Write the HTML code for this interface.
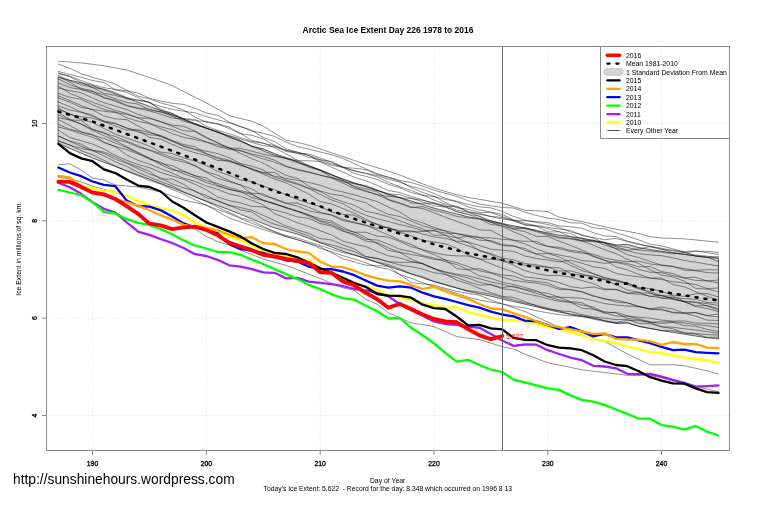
<!DOCTYPE html>
<html><head><meta charset="utf-8"><title>Arctic Sea Ice Extent</title><style>html,body{margin:0;padding:0;background:#fff}</style></head><body>
<svg width="760" height="506" viewBox="0 0 760 506" style="display:block;font-family:'Liberation Sans',sans-serif">
<rect width="760" height="506" fill="#fff"/>
<defs><clipPath id="c"><rect x="46.5" y="46.5" width="683" height="404"/></clipPath></defs>
<g stroke="#d3d3d3" stroke-width="0.75" stroke-dasharray="0.75 1.6">
<line x1="92.5" x2="92.5" y1="46.5" y2="450.5"/>
<line x1="206.4" x2="206.4" y1="46.5" y2="450.5"/>
<line x1="320.2" x2="320.2" y1="46.5" y2="450.5"/>
<line x1="434.0" x2="434.0" y1="46.5" y2="450.5"/>
<line x1="547.8" x2="547.8" y1="46.5" y2="450.5"/>
<line x1="661.5" x2="661.5" y1="46.5" y2="450.5"/>
<line x1="46.5" x2="729.5" y1="415.5" y2="415.5"/>
<line x1="46.5" x2="729.5" y1="318.2" y2="318.2"/>
<line x1="46.5" x2="729.5" y1="220.8" y2="220.8"/>
<line x1="46.5" x2="729.5" y1="123.5" y2="123.5"/>
</g>
<g clip-path="url(#c)" fill="none" stroke-linejoin="round" stroke-linecap="round">
<path d="M58.4 77.5 L69.8 80.2 L81.2 82.8 L92.5 85.5 L103.9 89.7 L115.3 93.8 L126.7 98.0 L138.1 102.2 L149.4 106.4 L160.8 110.6 L172.2 114.9 L183.6 119.1 L195.0 123.6 L206.4 128.0 L217.7 132.3 L229.1 136.7 L240.5 141.3 L251.9 146.0 L263.2 150.7 L274.6 155.3 L286.0 158.4 L297.4 161.5 L308.8 165.9 L320.2 170.3 L331.5 174.7 L342.9 179.1 L354.3 182.8 L365.7 186.6 L377.1 190.4 L388.4 193.9 L399.8 197.5 L411.2 201.0 L422.6 204.5 L434.0 208.1 L445.3 211.0 L456.7 213.9 L468.1 216.8 L479.5 218.9 L490.9 221.0 L502.2 223.5 L513.6 225.8 L525.0 228.0 L536.4 230.4 L547.8 232.9 L559.1 235.1 L570.5 236.7 L581.9 238.2 L593.3 240.4 L604.6 242.4 L616.0 245.0 L627.4 244.3 L638.8 247.6 L650.2 249.5 L661.5 251.3 L672.9 252.8 L684.3 254.4 L695.7 255.9 L707.1 257.4 L718.5 258.4 L718.5 339.0 L707.1 337.8 L695.7 336.0 L684.3 334.2 L672.9 332.4 L661.5 330.6 L650.2 328.5 L638.8 326.5 L627.4 322.9 L616.0 323.3 L604.6 320.6 L593.3 318.4 L581.9 315.9 L570.5 314.1 L559.1 312.1 L547.8 309.6 L536.4 306.9 L525.0 304.1 L513.6 301.6 L502.2 299.0 L490.9 296.2 L479.5 293.8 L468.1 291.4 L456.7 288.1 L445.3 284.9 L434.0 281.7 L422.6 277.8 L411.2 274.0 L399.8 270.1 L388.4 266.3 L377.1 262.4 L365.7 258.7 L354.3 255.0 L342.9 251.3 L331.5 247.0 L320.2 242.7 L308.8 238.4 L297.4 234.1 L286.0 231.0 L274.6 228.0 L263.2 223.5 L251.9 218.9 L240.5 214.3 L229.1 209.7 L217.7 205.5 L206.4 201.2 L195.0 196.7 L183.6 192.2 L172.2 187.9 L160.8 183.6 L149.4 179.2 L138.1 175.0 L126.7 170.7 L115.3 166.5 L103.9 162.2 L92.5 158.0 L81.2 153.2 L69.8 148.3 L58.4 143.5Z" fill="#d3d3d3" stroke="#000" stroke-width="0.75" stroke-opacity="0.8" stroke-linejoin="miter"/>
<g stroke="#000" stroke-width="0.6" stroke-opacity="0.74" stroke-linejoin="miter">
<path d="M58.4 61.3 L69.8 62.0 L81.2 62.9 L92.5 64.3 L103.9 65.8 L115.3 67.9 L126.7 70.0 L138.1 73.7 L149.4 77.4 L160.8 81.4 L172.2 85.6 L183.6 91.5 L195.0 97.3 L206.4 102.9 L217.7 109.1 L229.1 115.4 L240.5 118.5 L251.9 121.2 L263.2 126.1 L274.6 133.2 L286.0 140.2 L297.4 142.4 L308.8 145.2 L320.2 149.0 L331.5 152.8 L342.9 156.6 L354.3 160.5 L365.7 164.2 L377.1 167.7 L388.4 171.2 L399.8 175.1 L411.2 179.4 L422.6 183.8 L434.0 188.0 L445.3 191.4 L456.7 194.7 L468.1 197.4 L479.5 199.3 L490.9 201.3 L502.2 203.2 L513.6 206.7 L525.0 210.2 L536.4 210.8 L547.8 211.5 L559.1 217.2 L570.5 219.5 L581.9 221.5 L593.3 224.2 L604.6 226.9 L616.0 229.1 L627.4 231.3 L638.8 233.5 L650.2 236.7 L661.5 238.0 L672.9 238.4 L684.3 238.9 L695.7 239.9 L707.1 241.1 L718.5 242.2"/>
<path d="M58.4 64.0 L69.8 68.4 L81.2 73.6 L92.5 77.4 L103.9 80.3 L115.3 84.2 L126.7 90.3 L138.1 96.2 L149.4 98.9 L160.8 103.0 L172.2 105.9 L183.6 110.0 L195.0 117.1 L206.4 122.2 L217.7 124.2 L229.1 128.5 L240.5 133.7 L251.9 135.3 L263.2 138.8 L274.6 145.3 L286.0 150.2 L297.4 153.4 L308.8 157.2 L320.2 159.7 L331.5 161.5 L342.9 167.1 L354.3 171.1 L365.7 173.2 L377.1 175.5 L388.4 179.1 L399.8 182.2 L411.2 186.5 L422.6 189.2 L434.0 193.5 L445.3 198.3 L456.7 201.3 L468.1 204.4 L479.5 206.8 L490.9 207.9 L502.2 211.4 L513.6 216.5 L525.0 220.2 L536.4 222.4 L547.8 224.5 L559.1 227.4 L570.5 231.9 L581.9 234.6 L593.3 238.1 L604.6 243.2 L616.0 249.0 L627.4 254.7 L638.8 257.5 L650.2 261.4 L661.5 265.1 L672.9 266.3 L684.3 270.2 L695.7 270.7 L707.1 272.6 L718.5 273.0"/>
<path d="M58.4 71.5 L69.8 74.5 L81.2 77.3 L92.5 80.5 L103.9 82.5 L115.3 89.8 L126.7 92.3 L138.1 97.7 L149.4 103.1 L160.8 106.4 L172.2 109.4 L183.6 111.2 L195.0 112.9 L206.4 116.6 L217.7 119.8 L229.1 122.8 L240.5 126.8 L251.9 131.0 L263.2 133.2 L274.6 136.5 L286.0 142.0 L297.4 146.6 L308.8 149.2 L320.2 152.0 L331.5 154.7 L342.9 158.4 L354.3 163.7 L365.7 168.8 L377.1 173.6 L388.4 177.2 L399.8 180.4 L411.2 182.5 L422.6 186.2 L434.0 190.2 L445.3 193.2 L456.7 196.4 L468.1 200.7 L479.5 204.1 L490.9 205.8 L502.2 207.5 L513.6 208.0 L525.0 212.3 L536.4 215.3 L547.8 218.1 L559.1 219.5 L570.5 222.8 L581.9 223.1 L593.3 227.9 L604.6 228.9 L616.0 232.8 L627.4 236.1 L638.8 239.9 L650.2 244.2 L661.5 245.9 L672.9 248.9 L684.3 252.0 L695.7 256.4 L707.1 257.2 L718.5 261.5"/>
<path d="M58.4 72.8 L69.8 76.6 L81.2 82.3 L92.5 87.6 L103.9 89.2 L115.3 92.5 L126.7 97.5 L138.1 100.3 L149.4 102.0 L160.8 109.2 L172.2 113.6 L183.6 118.6 L195.0 119.5 L206.4 126.3 L217.7 130.5 L229.1 133.7 L240.5 137.6 L251.9 141.4 L263.2 143.4 L274.6 145.5 L286.0 151.5 L297.4 153.2 L308.8 153.9 L320.2 158.0 L331.5 162.3 L342.9 167.6 L354.3 173.5 L365.7 176.3 L377.1 179.5 L388.4 184.4 L399.8 187.8 L411.2 192.5 L422.6 195.3 L434.0 196.6 L445.3 199.4 L456.7 201.7 L468.1 207.0 L479.5 209.9 L490.9 212.0 L502.2 214.4 L513.6 219.9 L525.0 223.2 L536.4 225.9 L547.8 228.8 L559.1 231.7 L570.5 233.6 L581.9 239.1 L593.3 241.1 L604.6 242.8 L616.0 245.7 L627.4 247.4 L638.8 250.2 L650.2 250.9 L661.5 252.2 L672.9 253.9 L684.3 252.7 L695.7 255.0 L707.1 256.1 L718.5 258.0"/>
<path d="M58.4 73.8 L69.8 76.2 L81.2 80.5 L92.5 84.5 L103.9 87.7 L115.3 89.5 L126.7 90.8 L138.1 93.0 L149.4 98.3 L160.8 101.1 L172.2 103.3 L183.6 104.4 L195.0 108.3 L206.4 113.1 L217.7 115.2 L229.1 121.9 L240.5 126.3 L251.9 130.3 L263.2 137.5 L274.6 141.5 L286.0 148.7 L297.4 152.1 L308.8 155.6 L320.2 161.6 L331.5 167.2 L342.9 172.0 L354.3 177.3 L365.7 180.7 L377.1 185.3 L388.4 190.6 L399.8 192.5 L411.2 196.4 L422.6 199.9 L434.0 203.8 L445.3 206.7 L456.7 211.7 L468.1 214.3 L479.5 216.2 L490.9 220.7 L502.2 223.7 L513.6 229.0 L525.0 227.7 L536.4 230.8 L547.8 234.1 L559.1 237.1 L570.5 238.6 L581.9 240.6 L593.3 240.1 L604.6 245.1 L616.0 248.4 L627.4 250.8 L638.8 253.5 L650.2 254.9 L661.5 255.7 L672.9 257.8 L684.3 260.5 L695.7 262.1 L707.1 264.2 L718.5 266.0"/>
<path d="M58.4 75.3 L69.8 80.8 L81.2 84.7 L92.5 87.4 L103.9 93.4 L115.3 95.4 L126.7 98.6 L138.1 100.1 L149.4 102.4 L160.8 110.3 L172.2 113.4 L183.6 120.0 L195.0 124.6 L206.4 128.1 L217.7 132.2 L229.1 135.9 L240.5 140.1 L251.9 146.6 L263.2 148.6 L274.6 153.9 L286.0 158.6 L297.4 162.8 L308.8 166.1 L320.2 169.8 L331.5 175.2 L342.9 179.0 L354.3 183.7 L365.7 186.2 L377.1 190.2 L388.4 193.9 L399.8 194.7 L411.2 198.2 L422.6 202.0 L434.0 205.9 L445.3 207.2 L456.7 211.5 L468.1 214.5 L479.5 218.3 L490.9 222.2 L502.2 224.3 L513.6 227.1 L525.0 228.6 L536.4 231.7 L547.8 235.1 L559.1 237.8 L570.5 238.9 L581.9 241.1 L593.3 241.6 L604.6 242.6 L616.0 246.9 L627.4 250.2 L638.8 248.9 L650.2 246.5 L661.5 249.7 L672.9 250.2 L684.3 252.9 L695.7 251.2 L707.1 251.3 L718.5 252.5"/>
<path d="M58.4 76.5 L69.8 82.1 L81.2 89.6 L92.5 91.5 L103.9 94.8 L115.3 98.8 L126.7 102.4 L138.1 104.1 L149.4 110.1 L160.8 111.9 L172.2 116.1 L183.6 121.2 L195.0 123.7 L206.4 127.9 L217.7 132.4 L229.1 135.6 L240.5 138.9 L251.9 142.5 L263.2 145.7 L274.6 146.8 L286.0 150.4 L297.4 152.2 L308.8 155.2 L320.2 159.9 L331.5 163.9 L342.9 167.0 L354.3 170.7 L365.7 173.5 L377.1 176.8 L388.4 182.4 L399.8 186.7 L411.2 190.5 L422.6 194.9 L434.0 200.1 L445.3 204.1 L456.7 207.7 L468.1 209.3 L479.5 212.4 L490.9 212.6 L502.2 216.4 L513.6 220.2 L525.0 224.5 L536.4 226.4 L547.8 231.8 L559.1 231.9 L570.5 236.6 L581.9 240.8 L593.3 245.2 L604.6 249.7 L616.0 253.6 L627.4 259.4 L638.8 263.5 L650.2 269.7 L661.5 275.2 L672.9 276.9 L684.3 281.2 L695.7 288.3 L707.1 289.2 L718.5 291.5"/>
<path d="M58.4 79.0 L69.8 84.9 L81.2 88.2 L92.5 90.9 L103.9 98.0 L115.3 100.0 L126.7 105.3 L138.1 108.0 L149.4 109.1 L160.8 112.1 L172.2 114.6 L183.6 118.9 L195.0 120.7 L206.4 121.5 L217.7 123.7 L229.1 127.0 L240.5 133.5 L251.9 140.6 L263.2 143.0 L274.6 147.6 L286.0 153.9 L297.4 160.1 L308.8 165.3 L320.2 170.0 L331.5 174.2 L342.9 180.6 L354.3 186.8 L365.7 191.4 L377.1 194.7 L388.4 196.5 L399.8 197.4 L411.2 203.0 L422.6 203.4 L434.0 203.1 L445.3 205.4 L456.7 210.1 L468.1 212.3 L479.5 213.3 L490.9 216.8 L502.2 218.8 L513.6 220.6 L525.0 220.7 L536.4 221.6 L547.8 222.7 L559.1 225.9 L570.5 226.8 L581.9 228.3 L593.3 232.7 L604.6 236.0 L616.0 236.5 L627.4 241.2 L638.8 243.8 L650.2 246.5 L661.5 248.1 L672.9 250.9 L684.3 251.5 L695.7 250.9 L707.1 252.7 L718.5 254.5"/>
<path d="M58.4 83.0 L69.8 87.6 L81.2 89.3 L92.5 93.2 L103.9 97.2 L115.3 101.4 L126.7 105.7 L138.1 108.5 L149.4 110.9 L160.8 114.3 L172.2 118.0 L183.6 119.1 L195.0 124.3 L206.4 128.5 L217.7 131.1 L229.1 137.5 L240.5 140.9 L251.9 146.2 L263.2 149.2 L274.6 153.6 L286.0 157.3 L297.4 161.9 L308.8 167.2 L320.2 170.5 L331.5 177.3 L342.9 181.9 L354.3 183.5 L365.7 185.6 L377.1 189.9 L388.4 194.8 L399.8 197.9 L411.2 198.5 L422.6 200.3 L434.0 202.8 L445.3 206.7 L456.7 206.1 L468.1 211.5 L479.5 214.4 L490.9 216.3 L502.2 217.5 L513.6 220.9 L525.0 225.2 L536.4 225.5 L547.8 227.3 L559.1 229.0 L570.5 230.4 L581.9 235.5 L593.3 237.6 L604.6 239.7 L616.0 238.5 L627.4 241.5 L638.8 244.5 L650.2 246.6 L661.5 248.9 L672.9 252.5 L684.3 254.4 L695.7 255.8 L707.1 257.0 L718.5 256.5"/>
<path d="M58.4 86.0 L69.8 93.3 L81.2 97.8 L92.5 102.2 L103.9 106.2 L115.3 110.3 L126.7 113.5 L138.1 117.9 L149.4 123.0 L160.8 128.9 L172.2 133.6 L183.6 137.4 L195.0 139.5 L206.4 142.2 L217.7 144.9 L229.1 148.1 L240.5 148.3 L251.9 151.3 L263.2 154.1 L274.6 156.5 L286.0 158.1 L297.4 160.6 L308.8 160.8 L320.2 161.4 L331.5 165.2 L342.9 167.4 L354.3 168.2 L365.7 169.8 L377.1 174.5 L388.4 177.4 L399.8 181.4 L411.2 187.5 L422.6 192.5 L434.0 196.1 L445.3 202.6 L456.7 207.0 L468.1 212.0 L479.5 216.4 L490.9 222.4 L502.2 226.1 L513.6 231.8 L525.0 236.6 L536.4 243.5 L547.8 246.5 L559.1 248.7 L570.5 251.6 L581.9 253.1 L593.3 254.2 L604.6 258.0 L616.0 260.1 L627.4 261.7 L638.8 261.1 L650.2 264.0 L661.5 265.3 L672.9 266.6 L684.3 268.6 L695.7 270.3 L707.1 269.7 L718.5 270.0"/>
<path d="M58.4 88.0 L69.8 90.7 L81.2 92.7 L92.5 98.0 L103.9 102.7 L115.3 106.1 L126.7 109.5 L138.1 114.4 L149.4 117.8 L160.8 121.7 L172.2 126.3 L183.6 130.7 L195.0 131.5 L206.4 138.2 L217.7 142.9 L229.1 148.0 L240.5 150.9 L251.9 154.0 L263.2 156.4 L274.6 160.2 L286.0 166.0 L297.4 170.2 L308.8 172.5 L320.2 175.0 L331.5 178.1 L342.9 183.1 L354.3 188.5 L365.7 190.8 L377.1 194.6 L388.4 199.9 L399.8 203.6 L411.2 207.7 L422.6 206.5 L434.0 210.4 L445.3 212.8 L456.7 216.4 L468.1 217.9 L479.5 219.0 L490.9 224.5 L502.2 225.9 L513.6 229.2 L525.0 231.7 L536.4 236.4 L547.8 236.5 L559.1 241.1 L570.5 245.4 L581.9 249.9 L593.3 255.7 L604.6 260.1 L616.0 266.8 L627.4 269.9 L638.8 274.4 L650.2 278.1 L661.5 278.0 L672.9 284.5 L684.3 286.8 L695.7 291.7 L707.1 296.3 L718.5 300.0"/>
<path d="M58.4 93.5 L69.8 97.2 L81.2 99.3 L92.5 104.8 L103.9 109.5 L115.3 111.9 L126.7 117.7 L138.1 121.2 L149.4 123.8 L160.8 126.8 L172.2 129.7 L183.6 134.1 L195.0 137.7 L206.4 141.9 L217.7 146.7 L229.1 149.1 L240.5 150.5 L251.9 155.0 L263.2 159.0 L274.6 162.1 L286.0 166.6 L297.4 169.3 L308.8 171.8 L320.2 175.3 L331.5 177.5 L342.9 180.5 L354.3 186.3 L365.7 188.8 L377.1 191.8 L388.4 199.4 L399.8 202.9 L411.2 206.9 L422.6 208.5 L434.0 212.8 L445.3 217.2 L456.7 221.4 L468.1 225.4 L479.5 229.9 L490.9 230.4 L502.2 236.3 L513.6 240.5 L525.0 243.9 L536.4 249.0 L547.8 252.9 L559.1 255.0 L570.5 257.1 L581.9 260.6 L593.3 261.5 L604.6 263.4 L616.0 261.8 L627.4 263.5 L638.8 266.8 L650.2 266.5 L661.5 271.6 L672.9 273.5 L684.3 277.8 L695.7 277.3 L707.1 281.0 L718.5 280.0"/>
<path d="M58.4 96.0 L69.8 100.5 L81.2 105.6 L92.5 109.8 L103.9 116.0 L115.3 118.9 L126.7 119.6 L138.1 126.0 L149.4 131.9 L160.8 136.6 L172.2 141.4 L183.6 146.3 L195.0 149.1 L206.4 151.2 L217.7 153.7 L229.1 157.7 L240.5 163.6 L251.9 166.1 L263.2 169.9 L274.6 177.4 L286.0 180.8 L297.4 184.5 L308.8 188.4 L320.2 194.5 L331.5 200.0 L342.9 203.8 L354.3 210.2 L365.7 215.3 L377.1 218.7 L388.4 221.5 L399.8 224.6 L411.2 227.1 L422.6 230.7 L434.0 230.8 L445.3 233.1 L456.7 233.7 L468.1 235.4 L479.5 237.3 L490.9 241.7 L502.2 245.5 L513.6 246.3 L525.0 248.5 L536.4 254.0 L547.8 253.5 L559.1 256.9 L570.5 262.8 L581.9 268.1 L593.3 273.8 L604.6 277.8 L616.0 279.8 L627.4 283.1 L638.8 288.4 L650.2 292.8 L661.5 298.2 L672.9 299.2 L684.3 301.7 L695.7 306.6 L707.1 308.5 L718.5 311.5"/>
<path d="M58.4 98.0 L69.8 102.2 L81.2 107.5 L92.5 109.4 L103.9 111.3 L115.3 112.5 L126.7 114.4 L138.1 117.9 L149.4 118.3 L160.8 121.8 L172.2 125.2 L183.6 126.3 L195.0 131.0 L206.4 137.2 L217.7 142.9 L229.1 148.0 L240.5 153.4 L251.9 158.6 L263.2 163.1 L274.6 169.5 L286.0 175.3 L297.4 178.4 L308.8 186.1 L320.2 191.5 L331.5 197.6 L342.9 201.7 L354.3 205.2 L365.7 211.3 L377.1 213.6 L388.4 216.8 L399.8 220.8 L411.2 225.1 L422.6 228.7 L434.0 235.2 L445.3 235.2 L456.7 242.1 L468.1 245.9 L479.5 250.2 L490.9 253.7 L502.2 258.0 L513.6 259.9 L525.0 263.6 L536.4 264.8 L547.8 267.2 L559.1 271.0 L570.5 270.9 L581.9 273.9 L593.3 277.0 L604.6 279.3 L616.0 280.9 L627.4 283.1 L638.8 287.7 L650.2 288.6 L661.5 291.4 L672.9 295.2 L684.3 296.4 L695.7 293.8 L707.1 293.5 L718.5 297.0"/>
<path d="M58.4 102.0 L69.8 106.6 L81.2 112.0 L92.5 115.1 L103.9 121.9 L115.3 123.8 L126.7 128.0 L138.1 132.0 L149.4 134.6 L160.8 136.1 L172.2 140.7 L183.6 145.8 L195.0 149.7 L206.4 153.7 L217.7 157.5 L229.1 160.2 L240.5 164.8 L251.9 169.4 L263.2 172.5 L274.6 172.4 L286.0 180.1 L297.4 183.4 L308.8 188.3 L320.2 190.9 L331.5 194.1 L342.9 195.8 L354.3 199.7 L365.7 202.7 L377.1 209.3 L388.4 214.3 L399.8 216.5 L411.2 221.1 L422.6 225.8 L434.0 229.0 L445.3 230.8 L456.7 233.6 L468.1 236.4 L479.5 240.2 L490.9 240.6 L502.2 244.7 L513.6 245.7 L525.0 250.4 L536.4 254.1 L547.8 257.8 L559.1 260.1 L570.5 265.4 L581.9 270.7 L593.3 273.6 L604.6 277.9 L616.0 280.7 L627.4 284.4 L638.8 288.9 L650.2 291.5 L661.5 295.8 L672.9 296.0 L684.3 301.2 L695.7 302.1 L707.1 306.0 L718.5 310.0"/>
<path d="M58.4 106.0 L69.8 109.9 L81.2 112.4 L92.5 116.2 L103.9 120.9 L115.3 123.1 L126.7 128.1 L138.1 130.4 L149.4 137.3 L160.8 139.2 L172.2 144.4 L183.6 149.1 L195.0 152.7 L206.4 155.6 L217.7 160.5 L229.1 160.8 L240.5 165.7 L251.9 168.5 L263.2 173.0 L274.6 176.2 L286.0 178.4 L297.4 180.2 L308.8 182.4 L320.2 185.2 L331.5 189.4 L342.9 192.0 L354.3 194.8 L365.7 198.1 L377.1 201.6 L388.4 207.1 L399.8 212.0 L411.2 219.2 L422.6 222.8 L434.0 227.4 L445.3 231.0 L456.7 237.8 L468.1 242.7 L479.5 250.8 L490.9 254.6 L502.2 260.7 L513.6 265.2 L525.0 270.7 L536.4 273.7 L547.8 275.5 L559.1 275.4 L570.5 277.0 L581.9 280.6 L593.3 283.6 L604.6 288.9 L616.0 289.3 L627.4 293.1 L638.8 292.7 L650.2 293.4 L661.5 295.8 L672.9 298.5 L684.3 301.7 L695.7 302.4 L707.1 303.6 L718.5 305.5"/>
<path d="M58.4 108.0 L69.8 114.5 L81.2 116.7 L92.5 118.1 L103.9 121.7 L115.3 126.1 L126.7 130.2 L138.1 129.9 L149.4 132.6 L160.8 135.5 L172.2 140.5 L183.6 144.5 L195.0 146.6 L206.4 153.7 L217.7 158.6 L229.1 161.6 L240.5 164.1 L251.9 169.6 L263.2 174.0 L274.6 179.1 L286.0 182.9 L297.4 188.4 L308.8 194.0 L320.2 201.6 L331.5 203.9 L342.9 208.6 L354.3 213.3 L365.7 219.1 L377.1 224.7 L388.4 228.2 L399.8 232.1 L411.2 235.8 L422.6 240.2 L434.0 242.0 L445.3 243.8 L456.7 248.2 L468.1 254.9 L479.5 259.1 L490.9 263.7 L502.2 268.2 L513.6 271.9 L525.0 276.9 L536.4 278.2 L547.8 279.8 L559.1 282.6 L570.5 286.6 L581.9 288.2 L593.3 287.0 L604.6 289.7 L616.0 289.6 L627.4 293.4 L638.8 294.2 L650.2 296.0 L661.5 298.0 L672.9 297.4 L684.3 298.7 L695.7 299.3 L707.1 302.5 L718.5 303.0"/>
<path d="M58.4 109.4 L69.8 113.7 L81.2 119.4 L92.5 122.5 L103.9 128.5 L115.3 134.2 L126.7 138.1 L138.1 141.9 L149.4 146.1 L160.8 152.1 L172.2 153.5 L183.6 158.0 L195.0 161.0 L206.4 165.7 L217.7 171.3 L229.1 175.4 L240.5 180.0 L251.9 181.7 L263.2 186.3 L274.6 189.6 L286.0 194.9 L297.4 199.5 L308.8 203.3 L320.2 206.6 L331.5 212.1 L342.9 214.3 L354.3 215.3 L365.7 220.6 L377.1 224.0 L388.4 228.2 L399.8 230.7 L411.2 230.8 L422.6 234.0 L434.0 236.9 L445.3 238.3 L456.7 241.2 L468.1 242.0 L479.5 245.6 L490.9 249.2 L502.2 250.2 L513.6 251.4 L525.0 256.0 L536.4 258.5 L547.8 260.0 L559.1 261.8 L570.5 260.3 L581.9 263.2 L593.3 266.9 L604.6 268.4 L616.0 273.4 L627.4 275.5 L638.8 276.8 L650.2 278.2 L661.5 279.5 L672.9 281.7 L684.3 283.0 L695.7 284.4 L707.1 288.6 L718.5 288.0"/>
<path d="M58.4 112.5 L69.8 119.3 L81.2 123.9 L92.5 129.4 L103.9 133.2 L115.3 136.4 L126.7 141.1 L138.1 145.7 L149.4 150.4 L160.8 154.9 L172.2 159.5 L183.6 162.0 L195.0 165.4 L206.4 171.6 L217.7 175.2 L229.1 180.7 L240.5 185.0 L251.9 189.1 L263.2 195.7 L274.6 198.5 L286.0 203.0 L297.4 203.1 L308.8 207.3 L320.2 212.2 L331.5 215.3 L342.9 220.7 L354.3 223.0 L365.7 225.3 L377.1 228.3 L388.4 227.1 L399.8 231.6 L411.2 231.9 L422.6 231.5 L434.0 230.3 L445.3 235.3 L456.7 237.9 L468.1 236.4 L479.5 237.6 L490.9 237.9 L502.2 239.2 L513.6 240.1 L525.0 241.3 L536.4 241.4 L547.8 246.3 L559.1 247.3 L570.5 250.4 L581.9 251.7 L593.3 256.6 L604.6 260.5 L616.0 262.4 L627.4 265.1 L638.8 269.5 L650.2 272.2 L661.5 272.7 L672.9 275.5 L684.3 278.1 L695.7 280.4 L707.1 280.8 L718.5 283.0"/>
<path d="M58.4 115.0 L69.8 120.1 L81.2 124.3 L92.5 130.4 L103.9 135.6 L115.3 140.8 L126.7 146.7 L138.1 152.4 L149.4 158.3 L160.8 164.7 L172.2 169.9 L183.6 171.6 L195.0 175.7 L206.4 180.7 L217.7 183.6 L229.1 187.5 L240.5 190.7 L251.9 193.3 L263.2 193.9 L274.6 199.6 L286.0 203.4 L297.4 206.0 L308.8 210.9 L320.2 213.0 L331.5 214.8 L342.9 219.3 L354.3 222.2 L365.7 225.1 L377.1 230.2 L388.4 234.9 L399.8 240.4 L411.2 244.3 L422.6 250.2 L434.0 254.5 L445.3 260.0 L456.7 268.5 L468.1 269.9 L479.5 275.9 L490.9 278.4 L502.2 282.2 L513.6 284.5 L525.0 287.6 L536.4 290.7 L547.8 296.8 L559.1 299.9 L570.5 302.2 L581.9 305.0 L593.3 307.1 L604.6 312.6 L616.0 316.1 L627.4 316.3 L638.8 317.1 L650.2 318.2 L661.5 320.1 L672.9 321.1 L684.3 320.9 L695.7 323.0 L707.1 323.3 L718.5 324.0"/>
<path d="M58.4 117.8 L69.8 120.0 L81.2 120.3 L92.5 129.3 L103.9 132.5 L115.3 139.5 L126.7 142.2 L138.1 147.1 L149.4 149.8 L160.8 153.4 L172.2 157.4 L183.6 160.3 L195.0 166.0 L206.4 172.5 L217.7 178.3 L229.1 181.7 L240.5 185.0 L251.9 194.3 L263.2 200.6 L274.6 204.0 L286.0 207.2 L297.4 211.6 L308.8 216.0 L320.2 221.6 L331.5 224.8 L342.9 230.5 L354.3 235.3 L365.7 241.1 L377.1 242.6 L388.4 247.9 L399.8 252.2 L411.2 254.5 L422.6 256.5 L434.0 259.4 L445.3 260.0 L456.7 262.6 L468.1 266.6 L479.5 270.8 L490.9 273.1 L502.2 277.1 L513.6 280.4 L525.0 281.9 L536.4 283.1 L547.8 285.4 L559.1 289.4 L570.5 289.7 L581.9 291.7 L593.3 295.5 L604.6 299.0 L616.0 300.2 L627.4 302.8 L638.8 306.6 L650.2 308.7 L661.5 307.1 L672.9 309.0 L684.3 313.1 L695.7 312.7 L707.1 315.7 L718.5 317.0"/>
<path d="M58.4 119.7 L69.8 125.3 L81.2 132.0 L92.5 135.2 L103.9 138.4 L115.3 143.1 L126.7 147.4 L138.1 153.4 L149.4 159.3 L160.8 162.2 L172.2 168.7 L183.6 173.8 L195.0 177.7 L206.4 182.5 L217.7 186.0 L229.1 189.6 L240.5 191.6 L251.9 197.6 L263.2 200.4 L274.6 203.3 L286.0 207.9 L297.4 211.0 L308.8 214.6 L320.2 220.7 L331.5 222.8 L342.9 229.2 L354.3 232.2 L365.7 232.2 L377.1 236.1 L388.4 237.1 L399.8 241.5 L411.2 246.6 L422.6 249.6 L434.0 252.6 L445.3 254.9 L456.7 255.9 L468.1 256.0 L479.5 259.0 L490.9 259.1 L502.2 260.4 L513.6 262.5 L525.0 265.4 L536.4 266.2 L547.8 267.2 L559.1 267.7 L570.5 273.4 L581.9 275.3 L593.3 276.3 L604.6 279.9 L616.0 284.5 L627.4 290.2 L638.8 292.1 L650.2 296.6 L661.5 295.2 L672.9 298.9 L684.3 301.8 L695.7 305.7 L707.1 305.6 L718.5 308.5"/>
<path d="M58.4 124.4 L69.8 129.2 L81.2 132.1 L92.5 134.4 L103.9 142.3 L115.3 146.6 L126.7 149.6 L138.1 154.0 L149.4 157.9 L160.8 163.6 L172.2 165.6 L183.6 170.9 L195.0 175.8 L206.4 177.9 L217.7 185.4 L229.1 189.1 L240.5 192.1 L251.9 194.4 L263.2 200.0 L274.6 204.1 L286.0 207.9 L297.4 211.0 L308.8 215.2 L320.2 218.7 L331.5 221.1 L342.9 227.4 L354.3 232.1 L365.7 237.4 L377.1 243.6 L388.4 250.4 L399.8 252.5 L411.2 258.9 L422.6 264.0 L434.0 268.4 L445.3 274.2 L456.7 280.2 L468.1 283.7 L479.5 288.4 L490.9 292.6 L502.2 296.3 L513.6 297.5 L525.0 301.6 L536.4 306.1 L547.8 309.0 L559.1 310.7 L570.5 314.9 L581.9 316.6 L593.3 317.4 L604.6 320.9 L616.0 322.5 L627.4 320.3 L638.8 320.7 L650.2 322.3 L661.5 321.8 L672.9 321.8 L684.3 323.0 L695.7 324.6 L707.1 325.6 L718.5 327.5"/>
<path d="M58.4 127.0 L69.8 129.9 L81.2 133.9 L92.5 137.3 L103.9 142.4 L115.3 146.6 L126.7 155.0 L138.1 160.5 L149.4 164.1 L160.8 168.7 L172.2 173.0 L183.6 178.2 L195.0 181.3 L206.4 186.0 L217.7 189.3 L229.1 193.9 L240.5 196.4 L251.9 200.3 L263.2 204.9 L274.6 213.7 L286.0 218.0 L297.4 222.8 L308.8 226.4 L320.2 230.7 L331.5 234.9 L342.9 241.1 L354.3 244.2 L365.7 246.5 L377.1 251.5 L388.4 255.8 L399.8 257.9 L411.2 261.4 L422.6 263.5 L434.0 268.7 L445.3 272.4 L456.7 275.2 L468.1 278.0 L479.5 282.3 L490.9 284.7 L502.2 288.7 L513.6 290.1 L525.0 293.6 L536.4 295.7 L547.8 298.8 L559.1 301.3 L570.5 302.4 L581.9 308.1 L593.3 309.3 L604.6 311.7 L616.0 313.0 L627.4 318.4 L638.8 319.7 L650.2 322.5 L661.5 326.6 L672.9 328.9 L684.3 332.9 L695.7 333.5 L707.1 334.6 L718.5 335.0"/>
<path d="M58.4 130.0 L69.8 137.5 L81.2 140.8 L92.5 144.0 L103.9 148.9 L115.3 155.4 L126.7 160.3 L138.1 164.6 L149.4 167.6 L160.8 172.5 L172.2 176.0 L183.6 179.3 L195.0 184.4 L206.4 189.7 L217.7 197.0 L229.1 200.6 L240.5 202.9 L251.9 206.3 L263.2 207.0 L274.6 210.1 L286.0 213.0 L297.4 217.0 L308.8 218.3 L320.2 223.6 L331.5 226.1 L342.9 231.3 L354.3 234.0 L365.7 239.4 L377.1 240.0 L388.4 244.1 L399.8 249.2 L411.2 251.6 L422.6 255.5 L434.0 258.0 L445.3 261.7 L456.7 264.6 L468.1 269.6 L479.5 268.7 L490.9 272.4 L502.2 275.0 L513.6 276.1 L525.0 280.2 L536.4 281.4 L547.8 283.0 L559.1 288.0 L570.5 289.6 L581.9 292.1 L593.3 296.3 L604.6 298.7 L616.0 302.1 L627.4 302.9 L638.8 306.3 L650.2 309.1 L661.5 309.2 L672.9 312.9 L684.3 313.3 L695.7 316.1 L707.1 320.1 L718.5 320.5"/>
<path d="M58.4 136.0 L69.8 141.0 L81.2 144.2 L92.5 150.4 L103.9 153.3 L115.3 159.2 L126.7 163.3 L138.1 168.6 L149.4 174.0 L160.8 177.8 L172.2 183.8 L183.6 187.9 L195.0 190.7 L206.4 197.6 L217.7 200.5 L229.1 205.3 L240.5 209.9 L251.9 212.0 L263.2 219.6 L274.6 224.2 L286.0 227.6 L297.4 232.0 L308.8 236.0 L320.2 242.4 L331.5 244.8 L342.9 248.2 L354.3 251.5 L365.7 256.7 L377.1 258.5 L388.4 261.7 L399.8 265.0 L411.2 266.7 L422.6 269.2 L434.0 272.7 L445.3 274.5 L456.7 277.5 L468.1 281.8 L479.5 285.2 L490.9 284.7 L502.2 287.5 L513.6 286.1 L525.0 290.1 L536.4 293.4 L547.8 296.5 L559.1 297.2 L570.5 301.6 L581.9 302.6 L593.3 308.8 L604.6 313.3 L616.0 312.2 L627.4 315.8 L638.8 318.8 L650.2 321.9 L661.5 323.5 L672.9 322.3 L684.3 325.6 L695.7 326.2 L707.1 329.4 L718.5 331.5"/>
<path d="M58.4 141.5 L69.8 145.0 L81.2 148.5 L92.5 150.3 L103.9 152.0 L115.3 157.0 L126.7 162.5 L138.1 166.8 L149.4 171.2 L160.8 179.3 L172.2 179.0 L183.6 184.3 L195.0 191.7 L206.4 195.4 L217.7 201.1 L229.1 205.3 L240.5 207.6 L251.9 210.3 L263.2 215.3 L274.6 220.5 L286.0 225.9 L297.4 229.9 L308.8 233.5 L320.2 238.6 L331.5 240.0 L342.9 244.9 L354.3 248.9 L365.7 256.5 L377.1 258.3 L388.4 261.8 L399.8 262.4 L411.2 262.1 L422.6 263.5 L434.0 268.6 L445.3 271.8 L456.7 274.2 L468.1 275.8 L479.5 278.7 L490.9 282.0 L502.2 284.1 L513.6 287.1 L525.0 289.3 L536.4 291.7 L547.8 293.3 L559.1 297.2 L570.5 297.6 L581.9 298.3 L593.3 300.6 L604.6 303.6 L616.0 305.1 L627.4 306.0 L638.8 306.6 L650.2 309.3 L661.5 309.8 L672.9 312.2 L684.3 313.1 L695.7 312.5 L707.1 315.6 L718.5 314.0"/>
<path d="M58.4 164.8 L69.8 163.8 L81.2 170.0 L92.5 178.1 L103.9 180.0 L115.3 185.0 L126.7 186.0 L138.1 187.0 L149.4 189.5 L160.8 192.0 L172.2 196.0 L183.6 200.0 L195.0 202.5 L206.4 205.0 L217.7 211.5 L229.1 218.0 L240.5 221.9 L251.9 225.7 L263.2 229.6 L274.6 233.0 L286.0 236.5 L297.4 239.9 L308.8 243.4 L320.2 246.8 L331.5 252.8 L342.9 258.8 L354.3 262.0 L365.7 265.2 L377.1 265.7 L388.4 266.3 L399.8 274.5 L411.2 282.6 L422.6 283.9 L434.0 285.1 L445.3 288.3 L456.7 291.4 L468.1 293.3 L479.5 295.2 L490.9 300.0 L502.2 304.0 L513.6 307.7 L525.0 311.5 L536.4 316.8 L547.8 322.1 L559.1 327.3 L570.5 332.6 L581.9 335.6 L593.3 338.5 L604.6 341.4 L616.0 347.7 L627.4 354.0 L638.8 359.4 L650.2 364.8 L661.5 364.8 L672.9 364.8 L684.3 365.8 L695.7 368.3 L707.1 370.8 L718.5 374.1"/>
<path d="M58.4 136.0 L69.8 141.3 L81.2 146.4 L92.5 150.6 L103.9 155.9 L115.3 161.7 L126.7 166.4 L138.1 172.4 L149.4 177.0 L160.8 181.6 L172.2 185.9 L183.6 191.9 L195.0 196.9 L206.4 201.5 L217.7 207.1 L229.1 212.4 L240.5 217.7 L251.9 220.9 L263.2 226.4 L274.6 231.4 L286.0 235.7 L297.4 237.9 L308.8 241.9 L320.2 245.5 L331.5 249.2 L342.9 252.7 L354.3 255.0 L365.7 258.2 L377.1 262.1 L388.4 264.7 L399.8 269.0 L411.2 273.8 L422.6 276.8 L434.0 281.4 L445.3 284.4 L456.7 287.9 L468.1 290.7 L479.5 292.2 L490.9 294.2 L502.2 297.1 L513.6 300.0 L525.0 303.0 L536.4 305.2 L547.8 308.2 L559.1 310.8 L570.5 311.6 L581.9 314.6 L593.3 316.9 L604.6 318.2 L616.0 319.6 L627.4 319.4 L638.8 323.3 L650.2 323.6 L661.5 326.9 L672.9 327.2 L684.3 328.8 L695.7 329.9 L707.1 331.7 L718.5 333.2"/>
<path d="M58.4 140.5 L69.8 145.1 L81.2 150.7 L92.5 154.8 L103.9 160.3 L115.3 166.0 L126.7 171.4 L138.1 175.9 L149.4 180.5 L160.8 184.1 L172.2 189.6 L183.6 194.1 L195.0 199.8 L206.4 205.5 L217.7 209.6 L229.1 213.5 L240.5 218.6 L251.9 223.3 L263.2 227.5 L274.6 232.0 L286.0 236.7 L297.4 239.5 L308.8 243.5 L320.2 248.4 L331.5 251.7 L342.9 255.7 L354.3 259.0 L365.7 262.7 L377.1 267.1 L388.4 269.2 L399.8 274.4 L411.2 278.4 L422.6 282.6 L434.0 286.5 L445.3 289.5 L456.7 293.4 L468.1 297.2 L479.5 300.1 L490.9 302.1 L502.2 303.7 L513.6 306.3 L525.0 307.9 L536.4 310.8 L547.8 312.8 L559.1 314.6 L570.5 315.8 L581.9 316.4 L593.3 319.1 L604.6 321.6 L616.0 323.3 L627.4 322.9 L638.8 326.2 L650.2 328.5 L661.5 330.5 L672.9 330.8 L684.3 333.0 L695.7 334.1 L707.1 337.4 L718.5 337.0"/>
<path d="M58.4 177.5 L69.8 178.8 L81.2 181.9 L92.5 186.2 L103.9 189.4 L115.3 192.6 L126.7 195.8 L138.1 201.5 L149.4 205.3 L160.8 209.8 L172.2 216.6 L183.6 224.1 L195.0 229.1 L206.4 236.6 L217.7 241.6 L229.1 245.2 L240.5 250.2 L251.9 254.6 L263.2 259.0 L274.6 262.2 L286.0 265.3 L297.4 269.7 L308.8 274.1 L320.2 278.4 L331.5 283.4 L342.9 287.8 L354.3 290.4 L365.7 299.1 L377.1 304.2 L388.4 312.8 L399.8 317.8 L411.2 322.8 L422.6 324.7 L434.0 326.6 L445.3 331.6 L456.7 336.6 L468.1 338.1 L479.5 339.6 L490.9 343.1 L502.2 346.6 L513.6 348.9 L525.0 354.2 L536.4 358.5 L547.8 362.8 L559.1 365.1 L570.5 367.4 L581.9 369.8 L593.3 371.2 L604.6 372.5 L616.0 373.9 L627.4 375.3 L638.8 375.3 L650.2 375.3 L661.5 377.9 L672.9 381.0 L684.3 384.1 L695.7 386.6 L707.1 389.1 L718.5 391.7"/>
</g>
<path d="M58.4 111.5 L69.8 114.8 L81.2 118.2 L92.5 121.5 L103.9 125.7 L115.3 129.8 L126.7 134.0 L138.1 138.2 L149.4 142.4 L160.8 146.6 L172.2 150.9 L183.6 155.1 L195.0 159.6 L206.4 164.0 L217.7 168.3 L229.1 172.7 L240.5 177.3 L251.9 182.0 L263.2 186.7 L274.6 191.3 L286.0 194.4 L297.4 197.5 L308.8 201.9 L320.2 206.3 L331.5 210.7 L342.9 215.1 L354.3 218.8 L365.7 222.6 L377.1 226.4 L388.4 230.0 L399.8 233.6 L411.2 237.1 L422.6 240.7 L434.0 244.3 L445.3 247.3 L456.7 250.2 L468.1 253.2 L479.5 255.3 L490.9 257.5 L502.2 260.0 L513.6 262.5 L525.0 265.0 L536.4 267.7 L547.8 270.4 L559.1 272.8 L570.5 274.7 L581.9 276.5 L593.3 278.9 L604.6 281.1 L616.0 284.0 L627.4 283.6 L638.8 287.3 L650.2 289.5 L661.5 291.6 L672.9 293.5 L684.3 295.4 L695.7 297.2 L707.1 299.1 L718.5 300.4" stroke="#000" stroke-width="2.5" stroke-dasharray="2.1 6.9" stroke-linecap="round"/>
<path d="M58.4 181.6 L69.8 182.0 L81.2 185.8 L92.5 188.1 L103.9 190.6 L115.3 191.9 L126.7 195.6 L138.1 201.2 L149.4 205.3 L160.8 208.3 L172.2 210.8 L183.6 215.3 L195.0 222.9 L206.4 227.5 L217.7 231.4 L229.1 236.4 L240.5 240.2 L251.9 245.2 L263.2 250.2 L274.6 253.3 L286.0 255.8 L297.4 258.3 L308.8 260.3 L320.2 267.8 L331.5 271.6 L342.9 279.4 L354.3 283.4 L365.7 286.5 L377.1 289.7 L388.4 295.2 L399.8 297.2 L411.2 300.2 L422.6 303.5 L434.0 305.2 L445.3 307.7 L456.7 307.2 L468.1 312.2 L479.5 314.8 L490.9 317.7 L502.2 320.2 L513.6 319.9 L525.0 321.4 L536.4 323.8 L547.8 327.1 L559.1 328.9 L570.5 332.1 L581.9 335.1 L593.3 338.9 L604.6 340.7 L616.0 342.9 L627.4 346.5 L638.8 349.2 L650.2 352.1 L661.5 353.2 L672.9 355.3 L684.3 357.3 L695.7 359.0 L707.1 360.3 L718.5 362.8" stroke="#ffff00" stroke-width="2.3"/>
<path d="M58.4 182.8 L69.8 187.2 L81.2 193.8 L92.5 202.2 L103.9 208.8 L115.3 212.5 L126.7 222.4 L138.1 231.7 L149.4 234.9 L160.8 239.2 L172.2 243.0 L183.6 248.0 L195.0 254.2 L206.4 256.0 L217.7 259.8 L229.1 265.3 L240.5 266.6 L251.9 269.1 L263.2 272.3 L274.6 272.8 L286.0 278.4 L297.4 277.9 L308.8 281.6 L320.2 282.9 L331.5 284.1 L342.9 286.1 L354.3 289.0 L365.7 290.3 L377.1 292.8 L388.4 296.4 L399.8 304.0 L411.2 310.2 L422.6 315.8 L434.0 321.5 L445.3 324.0 L456.7 324.8 L468.1 326.6 L479.5 327.8 L490.9 334.0 L502.2 340.5 L513.6 345.9 L525.0 344.5 L536.4 344.7 L547.8 350.2 L559.1 354.0 L570.5 357.7 L581.9 360.2 L593.3 365.8 L604.6 366.5 L616.0 368.3 L627.4 373.8 L638.8 374.1 L650.2 373.8 L661.5 376.6 L672.9 379.9 L684.3 382.9 L695.7 386.6 L707.1 386.1 L718.5 385.4" stroke="#a020f0" stroke-width="2.3"/>
<path d="M58.4 189.8 L69.8 192.5 L81.2 195.0 L92.5 202.2 L103.9 211.9 L115.3 213.5 L126.7 219.1 L138.1 222.9 L149.4 224.9 L160.8 229.1 L172.2 234.2 L183.6 240.4 L195.0 245.5 L206.4 248.5 L217.7 252.0 L229.1 252.2 L240.5 254.8 L251.9 259.8 L263.2 264.0 L274.6 269.1 L286.0 274.1 L297.4 279.1 L308.8 284.9 L320.2 289.1 L331.5 294.2 L342.9 298.1 L354.3 299.8 L365.7 305.8 L377.1 311.2 L388.4 318.5 L399.8 317.8 L411.2 327.8 L422.6 335.3 L434.0 343.4 L445.3 352.9 L456.7 361.7 L468.1 359.9 L479.5 365.0 L490.9 369.5 L502.2 372.0 L513.6 379.8 L525.0 382.3 L536.4 385.3 L547.8 388.4 L559.1 389.9 L570.5 395.4 L581.9 399.9 L593.3 401.7 L604.6 404.9 L616.0 409.5 L627.4 413.9 L638.8 418.7 L650.2 418.7 L661.5 425.1 L672.9 426.7 L684.3 429.7 L695.7 425.9 L707.1 431.7 L718.5 435.5" stroke="#00ff00" stroke-width="2.3"/>
<path d="M58.4 167.5 L69.8 172.5 L81.2 176.2 L92.5 181.5 L103.9 184.8 L115.3 186.2 L126.7 200.6 L138.1 206.0 L149.4 206.6 L160.8 210.3 L172.2 216.6 L183.6 223.4 L195.0 227.4 L206.4 230.0 L217.7 233.4 L229.1 244.0 L240.5 249.0 L251.9 250.7 L263.2 252.8 L274.6 256.5 L286.0 260.3 L297.4 261.5 L308.8 266.6 L320.2 269.1 L331.5 269.1 L342.9 271.5 L354.3 275.2 L365.7 280.5 L377.1 285.6 L388.4 287.7 L399.8 286.4 L411.2 287.7 L422.6 292.7 L434.0 296.4 L445.3 298.9 L456.7 302.0 L468.1 305.2 L479.5 307.7 L490.9 311.6 L502.2 314.5 L513.6 316.4 L525.0 320.6 L536.4 321.3 L547.8 325.1 L559.1 328.9 L570.5 327.1 L581.9 331.4 L593.3 336.4 L604.6 333.9 L616.0 337.4 L627.4 337.4 L638.8 340.4 L650.2 343.2 L661.5 346.8 L672.9 350.2 L684.3 349.7 L695.7 352.2 L707.1 352.8 L718.5 353.3" stroke="#0000ff" stroke-width="2.3"/>
<path d="M58.4 176.0 L69.8 177.5 L81.2 186.2 L92.5 192.5 L103.9 194.8 L115.3 199.0 L126.7 202.2 L138.1 205.6 L149.4 210.3 L160.8 215.3 L172.2 219.6 L183.6 224.9 L195.0 226.6 L206.4 228.0 L217.7 230.3 L229.1 234.7 L240.5 238.2 L251.9 237.2 L263.2 243.2 L274.6 244.0 L286.0 249.0 L297.4 251.5 L308.8 252.8 L320.2 261.5 L331.5 266.6 L342.9 267.2 L354.3 270.7 L365.7 275.2 L377.1 278.4 L388.4 280.6 L399.8 281.4 L411.2 285.1 L422.6 288.9 L434.0 286.9 L445.3 291.4 L456.7 295.2 L468.1 298.9 L479.5 304.0 L490.9 308.5 L502.2 309.3 L513.6 313.3 L525.0 316.8 L536.4 321.3 L547.8 325.1 L559.1 327.1 L570.5 329.4 L581.9 331.4 L593.3 333.9 L604.6 333.4 L616.0 338.9 L627.4 339.6 L638.8 339.6 L650.2 341.4 L661.5 344.9 L672.9 342.0 L684.3 344.0 L695.7 344.0 L707.1 347.7 L718.5 348.2" stroke="#ffa500" stroke-width="2.3"/>
<path d="M58.4 143.8 L69.8 153.1 L81.2 158.4 L92.5 161.2 L103.9 169.4 L115.3 173.1 L126.7 179.4 L138.1 185.6 L149.4 187.0 L160.8 191.5 L172.2 201.5 L183.6 207.8 L195.0 215.3 L206.4 222.5 L217.7 226.9 L229.1 231.4 L240.5 236.4 L251.9 243.5 L263.2 249.0 L274.6 252.8 L286.0 254.0 L297.4 257.3 L308.8 262.8 L320.2 268.3 L331.5 272.8 L342.9 277.7 L354.3 283.0 L365.7 286.8 L377.1 294.0 L388.4 295.7 L399.8 295.9 L411.2 297.7 L422.6 304.7 L434.0 308.2 L445.3 309.0 L456.7 316.5 L468.1 325.3 L479.5 324.8 L490.9 328.3 L502.2 329.3 L513.6 337.8 L525.0 339.8 L536.4 340.2 L547.8 345.2 L559.1 347.7 L570.5 348.4 L581.9 350.2 L593.3 355.2 L604.6 361.5 L616.0 365.0 L627.4 366.2 L638.8 371.3 L650.2 377.2 L661.5 380.6 L672.9 383.4 L684.3 383.6 L695.7 388.4 L707.1 392.2 L718.5 392.9" stroke="#000000" stroke-width="2.3"/>
<path d="M58.4 181.6 L69.8 181.9 L81.2 186.9 L92.5 192.5 L103.9 194.4 L115.3 199.0 L126.7 206.2 L138.1 213.8 L149.4 223.6 L160.8 225.4 L172.2 229.1 L183.6 227.4 L195.0 226.6 L206.4 230.0 L217.7 235.3 L229.1 242.7 L240.5 246.5 L251.9 250.2 L263.2 254.8 L274.6 256.5 L286.0 259.0 L297.4 260.8 L308.8 262.8 L320.2 272.3 L331.5 272.8 L342.9 281.5 L354.3 285.3 L365.7 292.8 L377.1 299.1 L388.4 307.7 L399.8 304.0 L411.2 309.0 L422.6 314.5 L434.0 319.0 L445.3 321.5 L456.7 322.3 L468.1 329.1 L479.5 335.3 L490.9 339.1 L502.2 336.1" stroke="#ff0000" stroke-width="3.9"/>
<line x1="502.5" x2="502.5" y1="46.5" y2="450.5" stroke="#666" stroke-width="1"/>
</g>
<g stroke="#8a8a8a" stroke-width="1" fill="none">
<rect x="46.5" y="46.5" width="683" height="404"/>
<line x1="92.5" x2="92.5" y1="450.5" y2="455"/>
<line x1="206.4" x2="206.4" y1="450.5" y2="455"/>
<line x1="320.2" x2="320.2" y1="450.5" y2="455"/>
<line x1="434.0" x2="434.0" y1="450.5" y2="455"/>
<line x1="547.8" x2="547.8" y1="450.5" y2="455"/>
<line x1="661.5" x2="661.5" y1="450.5" y2="455"/>
<line x1="42" x2="46.5" y1="415.5" y2="415.5"/>
<line x1="42" x2="46.5" y1="318.2" y2="318.2"/>
<line x1="42" x2="46.5" y1="220.8" y2="220.8"/>
<line x1="42" x2="46.5" y1="123.5" y2="123.5"/>
</g>
<g font-size="6.85" fill="#000">
<text x="92.5" y="466" text-anchor="middle" stroke="#000" stroke-width="0.3">190</text>
<text x="206.4" y="466" text-anchor="middle" stroke="#000" stroke-width="0.3">200</text>
<text x="320.2" y="466" text-anchor="middle" stroke="#000" stroke-width="0.3">210</text>
<text x="434.0" y="466" text-anchor="middle" stroke="#000" stroke-width="0.3">220</text>
<text x="547.8" y="466" text-anchor="middle" stroke="#000" stroke-width="0.3">230</text>
<text x="661.5" y="466" text-anchor="middle" stroke="#000" stroke-width="0.3">240</text>
<text transform="translate(37.3 415.5) rotate(-90)" text-anchor="middle" stroke="#000" stroke-width="0.3">4</text>
<text transform="translate(37.3 318.2) rotate(-90)" text-anchor="middle" stroke="#000" stroke-width="0.3">6</text>
<text transform="translate(37.3 220.8) rotate(-90)" text-anchor="middle" stroke="#000" stroke-width="0.3">8</text>
<text transform="translate(37.3 123.5) rotate(-90)" text-anchor="middle" stroke="#000" stroke-width="0.3">10</text>
<text transform="translate(21 248.8) rotate(-90)" text-anchor="middle">Ice Extent in millions of sq. km.</text>
<text x="387.6" y="483.2" text-anchor="middle">Day of Year</text>
<text x="387.8" y="491" font-size="6.78" text-anchor="middle" xml:space="preserve">Today's Ice Extent: 5.622  - Record for the day: 8.348 which occurred on 1996 8 13</text>
<text x="506" y="338.6" fill="#ff0000">5.622</text>
</g>
<text x="388" y="33.4" text-anchor="middle" font-size="8.48" font-weight="bold">Arctic Sea Ice Extent Day 226 1978 to 2016</text>
<text x="13" y="483.6" font-size="13.8">http://sunshinehours.wordpress.com</text>
<rect x="600.5" y="46.5" width="129" height="92" fill="#fff" stroke="#8a8a8a" stroke-width="1"/>
<g stroke="#d3d3d3" stroke-width="0.75" stroke-dasharray="0.75 1.6"><line x1="661.5" x2="661.5" y1="46.5" y2="138.5"/><line x1="600.5" x2="729.5" y1="123.5" y2="123.5"/></g>
<line x1="607.3" x2="619.7" y1="55.2" y2="55.2" stroke="#ff0000" stroke-width="3.4" stroke-linecap="round"/>
<text x="626" y="57.7" font-size="6.85">2016</text>
<line x1="607.3" x2="619.7" y1="63.6" y2="63.6" stroke="#000" stroke-width="2.25" stroke-dasharray="2.25 6.75" stroke-linecap="round"/>
<text x="626" y="66.1" font-size="6.85">Mean 1981-2010</text>
<line x1="607.3" x2="619.7" y1="72.0" y2="72.0" stroke="#d3d3d3" stroke-width="8" stroke-linecap="round"/>
<text x="626" y="74.5" font-size="6.85">1 Standard Deviation From Mean</text>
<line x1="607.3" x2="619.7" y1="80.4" y2="80.4" stroke="#000" stroke-width="2.3" stroke-linecap="round"/>
<text x="626" y="82.9" font-size="6.85">2015</text>
<line x1="607.3" x2="619.7" y1="88.8" y2="88.8" stroke="#ffa500" stroke-width="2.3" stroke-linecap="round"/>
<text x="626" y="91.3" font-size="6.85">2014</text>
<line x1="607.3" x2="619.7" y1="97.2" y2="97.2" stroke="#0000ff" stroke-width="2.3" stroke-linecap="round"/>
<text x="626" y="99.8" font-size="6.85">2013</text>
<line x1="607.3" x2="619.7" y1="105.7" y2="105.7" stroke="#00ff00" stroke-width="2.3" stroke-linecap="round"/>
<text x="626" y="108.2" font-size="6.85">2012</text>
<line x1="607.3" x2="619.7" y1="114.1" y2="114.1" stroke="#a020f0" stroke-width="2.3" stroke-linecap="round"/>
<text x="626" y="116.6" font-size="6.85">2011</text>
<line x1="607.3" x2="619.7" y1="122.5" y2="122.5" stroke="#ffff00" stroke-width="2.3" stroke-linecap="round"/>
<text x="626" y="125.0" font-size="6.85">2010</text>
<line x1="607.3" x2="619.7" y1="130.5" y2="130.5" stroke="#333" stroke-width="0.9" stroke-linecap="butt"/>
<text x="626" y="133.4" font-size="6.85">Every Other Year</text>
</svg>
</body></html>
